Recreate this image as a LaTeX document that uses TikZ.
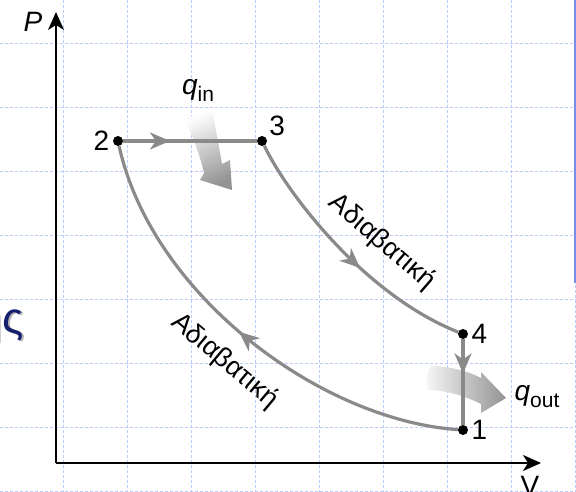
\documentclass[tikz,border=0pt]{standalone}
\usepackage{fontspec}
\setmainfont{Liberation Sans}
\usetikzlibrary{arrows.meta}
\usetikzlibrary{decorations.markings}
\definecolor{gridblue}{RGB}{188,204,250}
\definecolor{pathgray}{RGB}{138,138,138}
\definecolor{titleblue}{RGB}{22,30,110}
\definecolor{barblue}{RGB}{118,140,238}
\tikzset{->-/.style = {decoration={markings,
    mark=at position #1 with {\arrow{Stealth[length=20pt,width=17pt,inset=6pt]}}},
                      postaction={decorate}}}
\tikzset{dot/.style = {fill, circle, inner sep = 0, minimum size = 10pt}}
\tikzset{process/.style = {color=pathgray, line width=3.2pt}}
\tikzset{axis/.style = {line width=1.7pt, -{Stealth[length=18pt,width=16pt,inset=5pt]}}}
\tikzset{gridline/.style = {gridblue, line width=0.9pt, dash pattern=on 3pt off 2pt}}
\tikzset{statelabel/.style = {font=\fontsize{28}{30}\selectfont}}
\tikzset{curvetext/.style = {font=\fontsize{27}{30}\selectfont, inner sep=0}}
\newcommand{\qlabel}[1]{\textit{q}\raisebox{-7pt}{\fontsize{21}{22}\selectfont #1}}

\begin{document}
\begin{tikzpicture}[x=1pt, y=-1pt]
      \clip (0,0) rectangle (576,492);
      \foreach \x in {63,127,...,575} \draw[gridline] (\x,0) -- (\x,492);
      \foreach \y in {43,107,...,491} \draw[gridline] (0,\y) -- (576,\y);
      \fill[barblue] (573.5,0) rectangle (576,283);
      \node[font=\fontsize{44}{46}\selectfont, text=black!30, anchor=base east] (titleshadow) at (29,334.5) {ης};
      \node[font=\fontsize{44}{46}\selectfont, text=titleblue, anchor=base east] (title) at (27.5,333) {ης};
      \coordinate (o) at (56,463);
      \coordinate (ytip) at (56,12);
      \coordinate (xtip) at (541,463);
      \draw[axis] (o) -- (ytip);
      \draw[axis] (o) -- (xtip);
      \node[statelabel, font=\fontsize{28}{30}\selectfont\itshape] (plabel) at (33,22) {P};
      \node[statelabel, anchor=north, inner sep=0] (vlabel) at (530,476) {V};
      \shade[top color=gray!3, bottom color=gray!85, shading angle=25]
        (184,118) .. controls (195,140) and (201,160) .. (204,173) -- (200,180) -- (232,190)
        -- (230,160) -- (222,164) .. controls (219,145) and (215,128) .. (213,112) -- cycle;
      \node[statelabel] (qin) at (198,90) {\qlabel{in}};
      \shade[left color=gray!6, right color=gray!85]
        (431,366) .. controls (450,366) and (470,372) .. (481,378) -- (481,372) -- (506,398)
        -- (481,413) -- (481,404) .. controls (465,396) and (445,390) .. (428,390)
        .. controls (425,383) and (427,372) .. (431,366) -- cycle;
      \node[statelabel] (qout) at (537,397) {\qlabel{out}};
      \node[dot, label={[statelabel]left:2}] (n2) at (118,141) {};
      \node[dot, label={[statelabel, label distance=-1pt]20:3}] (n3) at (262,141) {};
      \node[dot, label={[statelabel]right:4}] (n4) at (463,334) {};
      \node[dot, label={[statelabel]right:1}] (n1) at (463,430) {};
      \draw[process, ->-=0.35] (n2) -- (n3);
      \draw[process, ->-=0.57] (n3) .. controls (288,195) and (365,295) .. (n4);
      \draw[process, ->-=0.4] (n4) -- (n1);
      \draw[process, ->-=0.52] (n1) .. controls (320,420) and (152,295) .. (n2);
      \node[curvetext, rotate=-41] (adiabtop) at (382,242) {Αδιαβατική};
      \node[curvetext, rotate=-40] (adiabbottom) at (225,361) {Αδιαβατική};
\end{tikzpicture}
\end{document}
